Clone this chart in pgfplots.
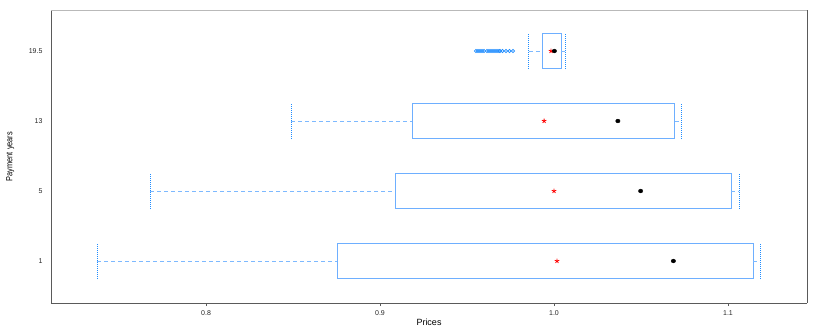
\documentclass[border=0pt]{standalone}
\usepackage{pgfplots}
\pgfplotsset{compat=1.18}
\usepackage{fontspec}
\setmainfont{Liberation Sans}

\definecolor{boxblue}{RGB}{110,175,255}
\definecolor{whiskblue}{RGB}{125,185,255}
\definecolor{outblue}{RGB}{30,140,255}
\definecolor{framegray}{RGB}{90,90,90}
\definecolor{toplight}{RGB}{185,185,185}

\begin{document}
\begin{tikzpicture}[x=1pt,y=1pt]
\begin{axis}[
    name=ax,
    scale only axis,
    width=756pt, height=293pt,
    xmin=0.7109, xmax=1.1454,
    ymin=0.4, ymax=4.586,
    axis lines*=left,
    xtick={0.8,0.9,1.0,1.1},
    xticklabels={0.8,0.9,1.0,1.1},
    ytick={1,2,3,4},
    yticklabels={1,5,13,19.5},
    tick align=outside,
    major tick length=3pt,
    ytick style={draw=none},
    xtick style={framegray, line width=0.6pt},
    axis line style={framegray, line width=0.9pt, -},
    tick label style={font=\fontsize{7}{8}\selectfont, text=black!85},
    /pgf/number format/assume math mode=true,
    xticklabel style={yshift=-1pt},
    yticklabel style={xshift=-2pt},
    xlabel={Prices},
    ylabel={\scalebox{0.82}[1]{Payment years}},
    label style={font=\fontsize{9}{10}\selectfont},
    xlabel style={at={(axis description cs:0.5,-0.066)}, anchor=center},
    ylabel style={at={(axis description cs:-0.054,0.5)}, anchor=center},
    clip=false,
]
% boxes
\addplot[boxblue, line width=0.8pt] coordinates {(0.8753,0.75) (1.1146,0.75) (1.1146,1.25) (0.8753,1.25) (0.8753,0.75)};
\addplot[boxblue, line width=0.8pt] coordinates {(0.9086,1.75) (1.1019,1.75) (1.1019,2.25) (0.9086,2.25) (0.9086,1.75)};
\addplot[boxblue, line width=0.8pt] coordinates {(0.9184,2.75) (1.0694,2.75) (1.0694,3.25) (0.9184,3.25) (0.9184,2.75)};
\addplot[boxblue, line width=0.8pt] coordinates {(0.9933,3.75) (1.0041,3.75) (1.0041,4.25) (0.9933,4.25) (0.9933,3.75)};
% whiskers (dashed)
\addplot[whiskblue, line width=0.7pt, dash pattern=on 4pt off 3pt] coordinates {(0.7374,1) (0.8753,1)};
\addplot[whiskblue, line width=0.7pt, dash pattern=on 4pt off 3pt] coordinates {(1.1146,1) (1.1185,1)};
\addplot[whiskblue, line width=0.7pt, dash pattern=on 4pt off 3pt] coordinates {(0.7678,2) (0.9086,2)};
\addplot[whiskblue, line width=0.7pt, dash pattern=on 4pt off 3pt] coordinates {(1.1019,2) (1.1063,2)};
\addplot[whiskblue, line width=0.7pt, dash pattern=on 4pt off 3pt] coordinates {(0.8489,3) (0.9184,3)};
\addplot[whiskblue, line width=0.7pt, dash pattern=on 4pt off 3pt] coordinates {(1.0694,3) (1.0730,3)};
\addplot[whiskblue, line width=0.7pt, dash pattern=on 4pt off 3pt] coordinates {(0.9855,4) (0.9933,4)};
\addplot[whiskblue, line width=0.7pt, dash pattern=on 4pt off 3pt] coordinates {(1.0041,4) (1.0067,4)};
% whisker caps (dotted)
\addplot[outblue, line width=0.9pt, dash pattern=on 1pt off 1pt] coordinates {(0.7374,0.75) (0.7374,1.25)};
\addplot[outblue, line width=0.9pt, dash pattern=on 1pt off 1pt] coordinates {(1.1185,0.75) (1.1185,1.25)};
\addplot[outblue, line width=0.9pt, dash pattern=on 1pt off 1pt] coordinates {(0.7678,1.75) (0.7678,2.25)};
\addplot[outblue, line width=0.9pt, dash pattern=on 1pt off 1pt] coordinates {(1.1063,1.75) (1.1063,2.25)};
\addplot[outblue, line width=0.9pt, dash pattern=on 1pt off 1pt] coordinates {(0.8489,2.75) (0.8489,3.25)};
\addplot[outblue, line width=0.9pt, dash pattern=on 1pt off 1pt] coordinates {(1.0730,2.75) (1.0730,3.25)};
\addplot[outblue, line width=0.9pt, dash pattern=on 1pt off 1pt] coordinates {(0.9855,3.75) (0.9855,4.25)};
\addplot[outblue, line width=0.9pt, dash pattern=on 1pt off 1pt] coordinates {(1.0067,3.75) (1.0067,4.25)};
% outliers
\addplot[only marks, mark=o, mark size=1.6pt, outblue, line width=0.7pt] coordinates {
    (0.95517,4) (0.95632,4) (0.95747,4) (0.95862,4) (0.95977,4)
    (0.96150,4) (0.96265,4) (0.96380,4) (0.96495,4) (0.96610,4)
    (0.96725,4) (0.96840,4) (0.96897,4) (0.97040,4) (0.97241,4)
    (0.97443,4) (0.97644,4)
};
% means (red stars)
\addplot[only marks, mark=star, mark size=2.4pt, red, line width=0.8pt] coordinates {
    (1.0017,1) (1.0000,2) (0.9943,3) (0.9983,4)
};
% medians (black dots)
\addplot[only marks, mark=*, mark size=1.9pt, black, mark options={xscale=1.15}] coordinates {
    (1.0686,1) (1.0498,2) (1.0367,3) (1.0002,4)
};
\end{axis}
\draw[framegray, line width=0.9pt] (ax.south east) -- (ax.north east);
\draw[toplight, line width=0.9pt] (ax.north west) -- (ax.north east);
\path[use as bounding box] ([shift={(-51pt,-29pt)}]ax.south west) rectangle ([shift={(23pt,10pt)}]ax.north east);
\end{tikzpicture}
\end{document}
